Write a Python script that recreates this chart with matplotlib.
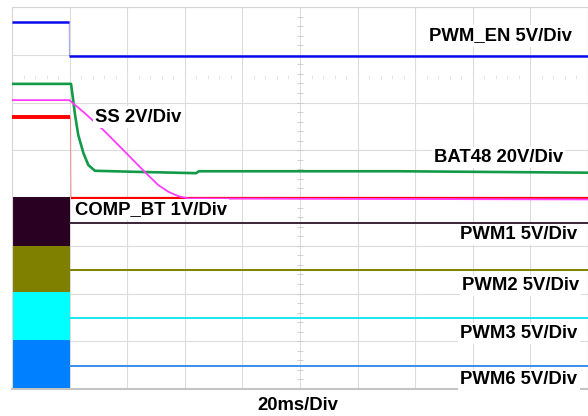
import numpy as np
import matplotlib
matplotlib.use("Agg")
import matplotlib.pyplot as plt

# ---- data: time in ms (20 ms/div), level in screen divisions (0 = bottom) ----
en_t = [0, 19.9, 19.95, 200]
en_v = [7.69, 7.69, 6.98, 6.98]

bat_t = [0, 20.5, 21.0, 21.9, 23.0, 24.8, 26.5, 28.8, 41.6, 63.9, 64.9, 134.7, 200]
bat_v = [6.39, 6.39, 6.16, 5.74, 5.32, 4.94, 4.69, 4.57, 4.55, 4.52, 4.56, 4.56, 4.53]

ss_t = [0, 20.0, 20.5, 25.4, 32.3, 39.2, 46.2, 50.8, 54.3, 57.7, 61.2, 200]
ss_v = [6.05, 6.05, 6.02, 5.77, 5.39, 4.97, 4.54, 4.27, 4.13, 4.04, 3.99, 3.97]

comp_t = [0, 20.3, 20.5, 200]
comp_v = [5.70, 5.70, 4.00, 4.00]

pwm_names = ["PWM1", "PWM2", "PWM3", "PWM6"]
pwm_band_lo = [3.00, 2.03, 1.03, 0.00]
pwm_band_hi = [4.02, 3.00, 2.03, 1.03]
pwm_stop_t = 20.0
pwm_level = [3.48, 2.49, 1.49, 0.48]

labels = ["PWM_EN 5V/Div", "SS 2V/Div", "BAT48 20V/Div", "COMP_BT 1V/Div",
          "PWM1 5V/Div", "PWM2 5V/Div", "PWM3 5V/Div", "PWM6 5V/Div"]
xlabel = "20ms/Div"

W, H = 588, 416
fig = plt.figure(figsize=(W / 100, H / 100), dpi=100)
ax = fig.add_axes([12 / W, (H - 389) / H, 576 / W, 382 / H])
ax.set_xlim(0, 200)
ax.set_ylim(0, 8)
ax.set_xticks(np.arange(0, 201, 20))
ax.set_yticks(np.arange(0, 9, 1))
ax.tick_params(length=0, labelbottom=False, labelleft=False)
ax.grid(True, color="#dcdcdc", lw=0.8, zorder=0)
ax.set_axisbelow(True)
for s in ["top", "left", "right"]:
    ax.spines[s].set_color("#d6d6d6")
    ax.spines[s].set_linewidth(0.8)
ax.spines["bottom"].set_color("#c4c4c4")
ax.spines["bottom"].set_linewidth(1.5)

# centre graticule ticks
ty = np.arange(0, 8.01, 0.2)
ax.plot(np.full(ty.size, 100.0), ty, ls="none", marker="_", ms=4, mew=0.6,
        color="#c8c8c8", zorder=1)
tx = np.arange(0, 200.1, 4)
ax.plot(tx, np.full(tx.size, 6.53), ls="none", marker="|", ms=2.5, mew=0.6,
        color="#e2e2e2", zorder=1)


def trace(t, v, color, lw, edge_alpha=0.35, z=3):
    t = np.asarray(t, float)
    v = np.asarray(v, float)
    run_t, run_v = [t[0]], [v[0]]
    for i in range(len(t) - 1):
        dt = t[i + 1] - t[i]
        dv = abs(v[i + 1] - v[i])
        if dv > 0.3 and dt < 0.5:
            if len(run_t) > 1:
                ax.plot(run_t, run_v, color=color, lw=lw, zorder=z,
                        solid_capstyle="butt", solid_joinstyle="round")
            ax.plot(t[i:i + 2], v[i:i + 2], color=color, lw=0.8,
                    alpha=edge_alpha, zorder=z)
            run_t, run_v = [t[i + 1]], [v[i + 1]]
        else:
            run_t.append(t[i + 1])
            run_v.append(v[i + 1])
    if len(run_t) > 1:
        ax.plot(run_t, run_v, color=color, lw=lw, zorder=z,
                solid_capstyle="butt", solid_joinstyle="round")


# PWM channels: switching band before stop, then flat level
band_cols = ["#2a0022", "#808000", "#00ffff", "#0080ff"]
line_cols = ["#3a243a", "#808000", "#19e6f0", "#3a8cf0"]
for lo, hi, lev, bc, lc in zip(pwm_band_lo, pwm_band_hi, pwm_level, band_cols, line_cols):
    ax.fill_between([0, pwm_stop_t], [lo, lo], [hi, hi], color=bc, lw=0, zorder=2)
    ax.plot([pwm_stop_t, 200], [lev, lev], color=lc, lw=1.4, zorder=3)

trace(en_t, en_v, "#0a0aee", 1.8)
trace(bat_t, bat_v, "#139a47", 1.9)
comp_t_a = np.asarray(comp_t)
comp_v_a = np.asarray(comp_v)
trace(comp_t, comp_v, "#ff0000", 1.6)
pre = comp_t_a <= pwm_stop_t + 0.5
ax.plot(comp_t_a[pre][:2], comp_v_a[pre][:2], color="#ff0000", lw=2.8, zorder=3,
        solid_capstyle="butt")
trace(ss_t, ss_v, "#ff3cff", 1.3, z=3.5)

# labels (left x px, baseline y px)
pos = [(429, 40.5), (95, 121.5), (434, 161.7), (75, 214.0),
       (460.5, 239.3), (462, 289.6), (460.5, 337.8), (460.5, 384.2)]
font = dict(family="Liberation Sans", weight="bold", size=13.3)
for lab, (px, py) in zip(labels, pos):
    fig.text(px / W, 1 - py / H, lab, ha="left", va="baseline", color="black",
             zorder=6, bbox=dict(facecolor="white", edgecolor="none", pad=1.5),
             **font)
fig.text(257 / W, 1 - 410 / H, xlabel, ha="left", va="baseline", color="black", **font)

fig.savefig("out.png", dpi=100)
